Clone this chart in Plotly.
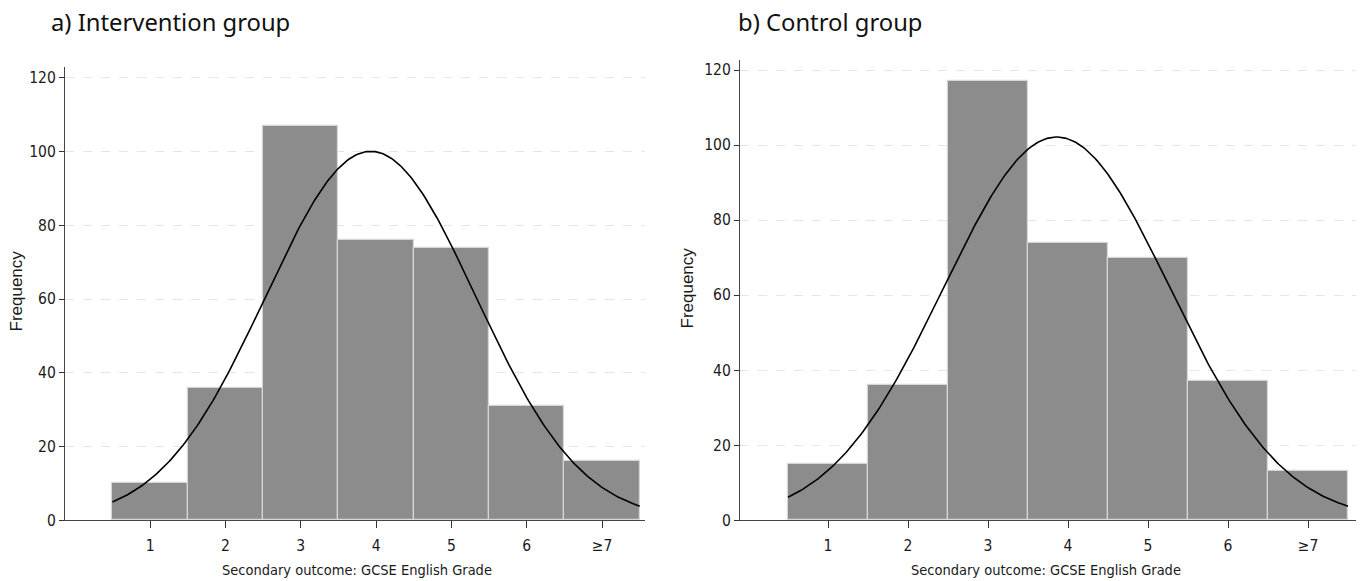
import numpy as np
import plotly.graph_objects as go

# ---- data ----
grades = [1, 2, 3, 4, 5, 6, 7]
grade_labels = ["1", "2", "3", "4", "5", "6", "≥7"]
freq_intervention = [10, 36, 107, 76, 74, 31, 16]
freq_control = [15, 36, 117, 74, 70, 37, 13]
y_ticks = [0, 20, 40, 60, 80, 100, 120]

panel_titles = ["a) Intervention group", "b) Control group"]
x_title = "Secondary outcome: GCSE English Grade"
y_title = "Frequency"

W, H = 1360, 581
H_EFF = 573  # effective drawn height observed in the viewer

def px_x(p):
    return p / W

# vertical pixel -> paper, corrected for the viewer's effective height
def py(p):
    return (H_EFF - p) / H_EFF

BAR = "#8c8c8c"
EDGE = "#d6d6d6"
TICKFONT = dict(family="DejaVu Sans Condensed, Liberation Sans, Arial, sans-serif", size=15.5, color="#1a1a1a")

fig = go.Figure()

def normal_curve(freqs):
    x = np.array(grades, dtype=float)
    f = np.array(freqs, dtype=float)
    n = f.sum()
    mu = (x * f).sum() / n
    sd = np.sqrt(((x - mu) ** 2 * f).sum() / n)
    xs = np.linspace(0.5, 7.5, 300)
    ys = n * np.exp(-0.5 * ((xs - mu) / sd) ** 2) / (sd * np.sqrt(2 * np.pi))
    return xs, ys

panels = [
    dict(freq=freq_intervention, xa="x", ya="y", xdom=(65, 645), ytop=67, yr=123, xr=(-0.13, 7.57)),
    dict(freq=freq_control, xa="x2", ya="y2", xdom=(740, 1356), ytop=60, yr=122.7, xr=(-0.1, 7.6)),
]

for i, p in enumerate(panels):
    fig.add_trace(go.Bar(
        x=grades, y=p["freq"], width=1.0, xaxis=p["xa"], yaxis=p["ya"],
        marker=dict(color=BAR, line=dict(color=EDGE, width=1.2)),
        showlegend=False, hoverinfo="x+y",
    ))
    xs, ys = normal_curve(p["freq"])
    fig.add_trace(go.Scatter(
        x=xs, y=ys, mode="lines", xaxis=p["xa"], yaxis=p["ya"],
        line=dict(color="black", width=1.6), showlegend=False, hoverinfo="skip",
    ))

layout = dict(
    width=W, height=H,
    margin=dict(l=0, r=0, t=0, b=0),
    paper_bgcolor="white", plot_bgcolor="white",
    showlegend=False, bargap=0,
)

for i, p in enumerate(panels):
    sx = "" if i == 0 else "2"
    layout["xaxis" + sx] = dict(
        domain=[px_x(p["xdom"][0]), px_x(p["xdom"][1])],
        anchor="y" + sx, range=list(p["xr"]),
        tickmode="array", tickvals=grades, ticktext=grade_labels,
        ticks="outside", ticklen=7, tickcolor="#333333", tickwidth=1,
        ticklabelstandoff=4,
        showline=True, linecolor="#444444", linewidth=1.2,
        showgrid=False, zeroline=False, tickfont=TICKFONT,
    )
    layout["yaxis" + sx] = dict(
        domain=[py(521), py(p["ytop"])],
        anchor="x" + sx, range=[0, p["yr"]],
        tickmode="array", tickvals=y_ticks,
        ticks="outside", ticklen=5, tickcolor="#333333", tickwidth=1,
        showline=True, linecolor="#444444", linewidth=1.2,
        showgrid=True, gridcolor="#e6e6e6", gridwidth=1, griddash="dash",
        zeroline=False, tickfont=TICKFONT,
    )

fig.update_layout(**layout)

TITLEFONT = dict(family="Noto Sans, Open Sans, sans-serif", size=23.8, color="#111111")
ann = []
ann.append(dict(text=panel_titles[0], x=px_x(49), y=py(22), xref="paper", yref="paper",
                xanchor="left", yanchor="middle", showarrow=False, font=TITLEFONT))
ann.append(dict(text=panel_titles[1], x=px_x(736), y=py(22), xref="paper", yref="paper",
                xanchor="left", yanchor="middle", showarrow=False, font=TITLEFONT))
for cx in [357, 1046]:
    ann.append(dict(text=x_title, x=px_x(cx), y=py(571), xref="paper", yref="paper",
                    xanchor="center", yanchor="middle", showarrow=False,
                    font=dict(family="DejaVu Sans Condensed, Liberation Sans, Arial, sans-serif", size=14.5, color="#1a1a1a")))
for cx, cy in [(16, 292), (687, 289)]:
    ann.append(dict(text=y_title, x=px_x(cx), y=py(cy), xref="paper", yref="paper",
                    xanchor="center", yanchor="middle", showarrow=False, textangle=-90,
                    font=dict(family="Liberation Sans, Arial, sans-serif", size=17, color="#1a1a1a")))
fig.update_layout(annotations=ann)

fig.write_html("out.html")
